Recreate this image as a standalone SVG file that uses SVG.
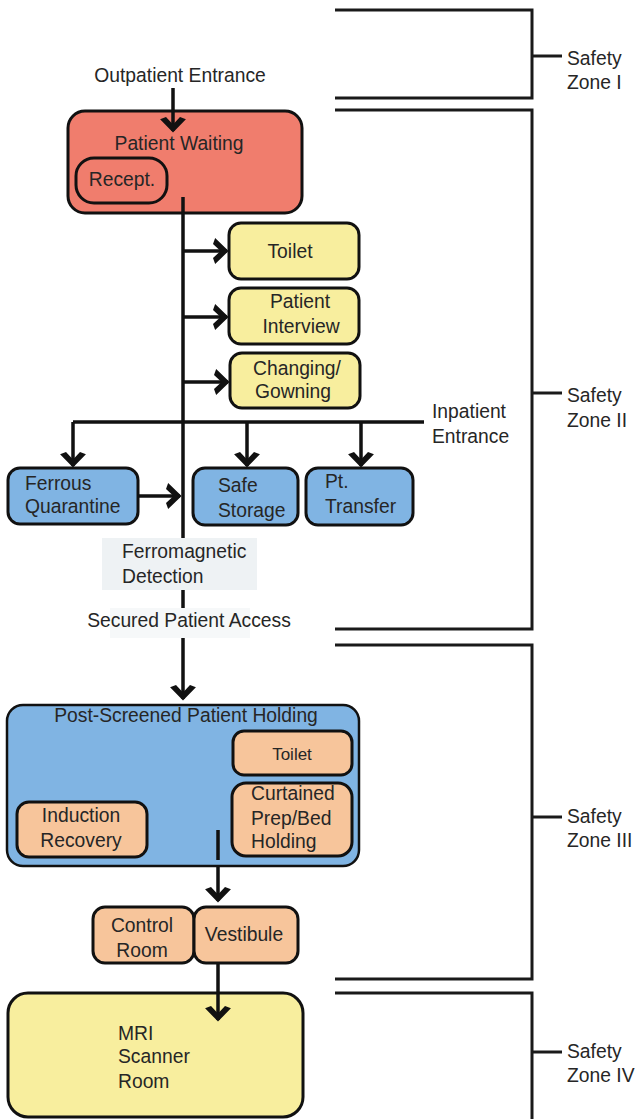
<svg xmlns="http://www.w3.org/2000/svg" width="638" height="1119" viewBox="0 0 638 1119">
<style>
text{font-family:"Liberation Sans",Arial,sans-serif;font-size:19.3px;fill:#262626}
.c{text-anchor:middle}
.box{stroke:#111;stroke-width:3}
.red{fill:#f07d6d}
.yel{fill:#f8ee9e}
.blu{fill:#80b4e3}
.pch{fill:#f7c59b}
.ln{fill:none;stroke:#111;stroke-width:3.5}
.zn{fill:none;stroke:#1a1a1a;stroke-width:3}
</style>
<defs>
<marker id="ah" markerUnits="userSpaceOnUse" markerWidth="18" markerHeight="28" viewBox="-14 -13 16 26" refX="0" refY="0" orient="auto">
<path d="M1.5,0 L-11,-12 L-13,-6.5 L-6,0 L-13,6.5 L-11,12 Z" fill="#111"/>
</marker>
</defs>
<rect width="638" height="1119" fill="#fff"/>

<g id="zones">
<path class="zn" d="M335,10 H532 V98 H335"/>
<path class="zn" d="M532,56 H562"/>
<text x="567" y="65">Safety</text><text x="567" y="89">Zone I</text>
<path class="zn" d="M335,110 H532 V629 H335"/>
<path class="zn" d="M532,393 H562"/>
<text x="567" y="402">Safety</text><text x="567" y="427">Zone II</text>
<path class="zn" d="M335,645 H532 V979 H335"/>
<path class="zn" d="M532,817 H562"/>
<text x="567" y="823">Safety</text><text x="567" y="847">Zone III</text>
<path class="zn" d="M335,993 H532 V1125"/>
<path class="zn" d="M532,1052 H562"/>
<text x="567" y="1058">Safety</text><text x="567" y="1082">Zone IV</text>
</g>

<g id="patient-waiting">
<rect class="box red" x="68" y="111" width="234" height="102" rx="17"/>
<text class="c" x="179" y="150">Patient Waiting</text>
</g>
<g id="recept">
<rect class="box red" x="76" y="158" width="91" height="45" rx="18"/>
<text class="c" x="122" y="186">Recept.</text>
</g>

<g id="toilet-1">
<rect class="box yel" x="229" y="223" width="130" height="56" rx="12"/>
<text class="c" x="290" y="258">Toilet</text>
</g>
<g id="patient-interview">
<rect class="box yel" x="229" y="288" width="130" height="56" rx="12"/>
<text class="c" x="300" y="308">Patient</text><text class="c" x="301" y="333">Interview</text>
</g>
<g id="changing">
<rect class="box yel" x="230" y="353" width="130" height="55" rx="12"/>
<text class="c" x="297" y="375">Changing/</text><text class="c" x="293" y="398">Gowning</text>
</g>

<g id="ferrous-quarantine">
<rect class="box blu" x="8" y="468" width="130" height="56" rx="12"/>
<text x="25" y="490">Ferrous</text><text x="25" y="513">Quarantine</text>
</g>
<g id="safe-storage">
<rect class="box blu" x="193" y="468" width="105" height="57" rx="12"/>
<text x="218" y="492">Safe</text><text x="218" y="517">Storage</text>
</g>
<g id="pt-transfer">
<rect class="box blu" x="306" y="468" width="107" height="57" rx="12"/>
<text x="325" y="488">Pt.</text><text x="325" y="513">Transfer</text>
</g>

<g id="connectors">
<path class="ln" d="M173,88 V131" marker-end="url(#ah)"/>
<path class="ln" d="M183,197 V699" marker-end="url(#ah)"/>
<path class="ln" d="M183,251 H227" marker-end="url(#ah)"/>
<path class="ln" d="M183,317 H227" marker-end="url(#ah)"/>
<path class="ln" d="M183,382 H228" marker-end="url(#ah)"/>
<path class="ln" d="M73,422 H424"/>
<path class="ln" d="M73,422 V466" marker-end="url(#ah)"/>
<path class="ln" d="M247,422 V466" marker-end="url(#ah)"/>
<path class="ln" d="M361,422 V466" marker-end="url(#ah)"/>
<path class="ln" d="M138,496 H180" marker-end="url(#ah)"/>
<path class="ln" d="M218,830 V901" marker-end="url(#ah)"/>
<path class="ln" d="M218,963 V1020" marker-end="url(#ah)"/>
</g>

<g id="inpatient-entrance">
<text x="432" y="418">Inpatient</text><text x="432" y="443">Entrance</text>
</g>
<g id="outpatient-entrance">
<text class="c" x="180" y="82">Outpatient Entrance</text>
</g>

<g id="ferromagnetic-detection">
<rect x="102" y="538" width="155" height="52" fill="#eef2f4"/>
<text x="122" y="558">Ferromagnetic</text><text x="122" y="583">Detection</text>
</g>
<g id="secured-access">
<rect x="84" y="608" width="210" height="30" fill="#fff"/>
<rect x="110" y="608" width="140" height="30" fill="#f6f8f9"/>
<text class="c" x="189" y="627">Secured Patient Access</text>
</g>

<g id="post-screened-holding">
<rect x="7" y="705" width="352" height="161" rx="16" fill="#80b4e3" stroke="#111" stroke-width="2.5"/>
<text class="c" x="186" y="722">Post-Screened Patient Holding</text>
</g>
<g id="toilet-2">
<rect class="box pch" x="233" y="731" width="119" height="44" rx="11"/>
<text class="c" x="292" y="760" style="font-size:17px">Toilet</text>
</g>
<g id="curtained-prep">
<rect class="box pch" x="232" y="783" width="120" height="73" rx="14"/>
<text x="251" y="800">Curtained</text><text x="251" y="825">Prep/Bed</text><text x="251" y="848">Holding</text>
</g>
<g id="induction-recovery">
<rect class="box pch" x="17" y="802" width="130" height="55" rx="12"/>
<text class="c" x="81" y="822">Induction</text><text class="c" x="81" y="847">Recovery</text>
</g>
<path class="ln" d="M218,830 V860"/>

<g id="control-room">
<rect class="box pch" x="93" y="907" width="101" height="56" rx="12"/>
<text class="c" x="142" y="932">Control</text><text class="c" x="142" y="957">Room</text>
</g>
<g id="vestibule">
<rect class="box pch" x="194" y="907" width="104" height="56" rx="12"/>
<text class="c" x="244" y="941">Vestibule</text>
</g>

<g id="mri-scanner-room">
<rect class="box yel" x="8" y="993" width="295" height="124" rx="20"/>
<text x="118" y="1040">MRI</text><text x="118" y="1063">Scanner</text><text x="118" y="1088">Room</text>
</g>
<path class="ln" d="M218,993 V1020" marker-end="url(#ah)"/>
</svg>
